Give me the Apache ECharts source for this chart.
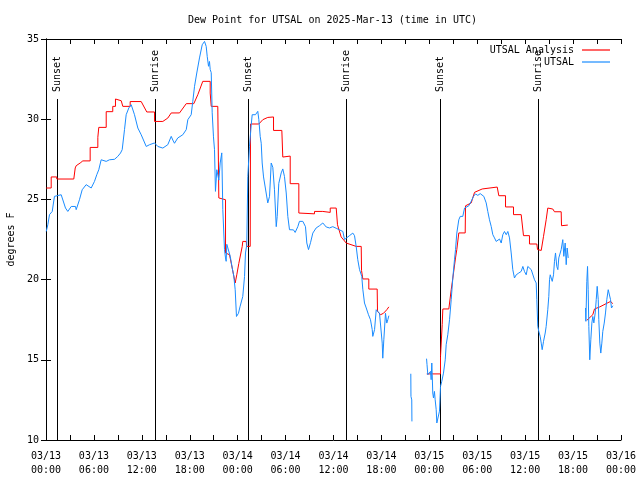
<!DOCTYPE html>
<html>
<head>
<meta charset="utf-8">
<script src="https://cdn.jsdelivr.net/npm/echarts@6/dist/echarts.min.js"></script>
<style>html,body{margin:0;padding:0;background:#fff}#c{width:640px;height:480px}</style>
</head>
<body>
<div id="c"></div>
<script>
// hours since 2025-03-13 00:00 UTC
const xTickLabels = ['03/13\n00:00','03/13\n06:00','03/13\n12:00','03/13\n18:00',
  '03/14\n00:00','03/14\n06:00','03/14\n12:00','03/14\n18:00',
  '03/15\n00:00','03/15\n06:00','03/15\n12:00','03/15\n18:00','03/16\n00:00'];
const sunHours = [1.35, 13.62, 25.27, 37.54, 49.31, 61.58];
const sunLabels = ['Sunset','Sunrise','Sunset','Sunrise','Sunset','Sunrise'];

const analysis = [
[0.03,25.71],[0.65,25.71],[0.65,26.4],[1.35,26.4],[1.35,26.27],[3.48,26.27],[3.66,26.96],[3.78,27.1],
[4.28,27.27],[4.61,27.4],[5.53,27.4],[5.53,28.24],[6.49,28.24],[6.49,28.87],[6.61,28.87],[6.61,29.49],
[7.54,29.49],[7.54,30.47],[8.36,30.47],[8.36,30.8],[8.70,30.8],[8.70,31.26],[9.42,31.15],[9.62,30.8],
[10.54,30.8],[10.54,31.1],[11.92,31.1],[12.62,30.45],[13.59,30.45],[13.59,29.86],[14.63,29.86],
[15.25,30.07],[15.68,30.39],[16.72,30.39],[17.56,30.97],[18.51,30.97],[19.01,31.53],[19.63,32.36],
[20.56,32.36],[20.56,31.63],[20.69,30.8],[21.51,30.8],[21.64,25.09],[21.81,24.98],[22.48,24.98],
[22.48,21.66],[22.98,21.55],[23.69,19.79],[23.89,20.3],[24.14,21.0],[24.57,22.07],[24.64,22.38],
[25.07,22.38],[25.14,22.07],[25.57,22.07],[25.61,29.7],[26.65,29.7],[27.15,29.97],[27.77,30.11],
[28.49,30.14],[28.49,29.3],[29.53,29.3],[29.65,27.64],[30.58,27.7],[30.58,25.98],[31.66,25.98],
[31.66,24.15],[33.62,24.1],[33.62,24.25],[34.66,24.25],[34.66,24.19],[35.59,24.19],[35.59,24.46],
[36.34,24.46],[36.50,23.42],[36.96,22.66],[37.59,22.28],[38.84,22.07],[39.47,22.07],[39.51,20.57],
[39.67,20.04],[40.42,20.04],[40.42,19.41],[41.47,19.41],[41.51,18.02],[41.89,17.81],[42.26,17.9],
[42.67,18.12],[42.93,18.3],
[43.5,null],
[45.78,12.78],[45.84,12.78],
[46.5,null],
[47.68,14.12],[49.40,14.12],[49.40,15.21],[49.61,17.19],[49.69,18.17],[50.44,18.17],[50.61,18.85],
[50.74,19.37],[50.86,19.79],[51.28,21.35],[51.44,21.87],[51.69,22.91],[52.49,22.91],[52.53,24.6],
[53.24,24.78],[53.37,24.98],[53.66,25.44],[54.62,25.65],[56.50,25.77],[56.70,25.23],[57.54,25.23],
[57.54,24.53],[58.54,24.53],[58.54,24.05],[59.50,24.05],[59.79,22.74],[60.54,22.74],[60.54,22.22],
[61.46,22.22],[61.55,21.87],[61.80,21.97],[62.01,21.82],[62.30,22.7],[62.63,23.73],[62.83,24.46],
[63.46,24.4],[63.67,24.23],[64.51,24.23],[64.55,23.36],[65.34,23.4],
[66.5,null],
[67.72,17.46],[68.47,17.81],[68.68,18.17],[69.31,18.29],[70.69,18.64],[70.98,18.5]
];

const observed = [
[0.03,23.0],[0.23,23.42],[0.44,24.05],[0.78,24.25],[1.06,25.19],[1.28,25.29],[1.90,25.29],[2.44,24.46],
[2.73,24.25],[3.16,24.56],[3.69,24.56],[3.78,24.36],[4.19,24.98],[4.53,25.6],[5.03,25.92],[5.20,26.02],
[5.66,25.71],[5.82,25.71],[6.07,26.12],[6.36,26.54],[6.61,26.85],[6.91,27.47],[7.07,27.58],[7.54,27.37],
[7.95,27.47],[8.20,27.37],[8.58,27.5],[8.99,27.68],[9.33,27.89],[9.54,28.1],[9.83,29.35],[10.04,30.28],
[10.37,30.7],[10.67,30.9],[11.08,30.28],[11.50,29.45],[11.92,29.03],[12.55,28.3],[12.96,28.41],
[13.59,28.52],[14.00,28.3],[14.63,28.2],[15.25,28.41],[15.68,28.93],[15.88,28.7],[16.09,28.5],
[16.50,28.83],[17.13,29.03],[17.56,29.35],[17.76,29.97],[18.18,30.28],[18.38,31.11],[18.60,32.05],
[18.88,32.88],[19.22,33.82],[19.56,34.64],[19.85,34.85],[20.06,34.54],[20.19,33.9],[20.35,33.3],
[20.47,33.6],[20.56,33.1],[20.69,32.9],[20.81,30.4],[20.97,28.9],[21.10,28.1],[21.22,25.5],[21.39,26.85],
[21.64,26.2],[21.81,27.27],[22.01,27.9],[22.14,24.36],[22.35,21.87],[22.48,21.35],[22.56,21.14],
[22.64,22.2],[22.89,22.17],[23.07,21.45],[23.32,20.72],[23.52,20.2],[23.69,19.37],[23.85,17.7],
[24.10,17.9],[24.29,18.3],[24.64,18.95],[24.86,20.2],[24.98,21.66],[25.14,22.17],[25.27,26.43],
[25.48,28.3],[25.70,29.66],[25.82,30.28],[26.02,30.17],[26.23,30.28],[26.52,30.49],[26.65,29.97],
[26.82,28.93],[26.95,28.5],[27.07,27.27],[27.24,26.4],[27.77,24.78],[27.99,25.19],[28.20,27.27],
[28.40,27.0],[28.61,25.6],[28.83,23.3],[28.95,23.94],[29.15,26.0],[29.45,26.65],[29.65,26.9],
[29.86,26.43],[30.08,25.4],[30.28,23.94],[30.49,23.11],[30.70,23.0],[30.99,23.1],[31.20,22.94],
[31.53,23.3],[31.74,23.63],[32.16,23.63],[32.49,23.3],[32.66,22.28],[32.87,21.87],[33.12,22.3],
[33.41,22.9],[33.83,23.22],[34.25,23.36],[34.66,23.53],[35.09,23.28],[35.50,23.22],[35.91,23.3],
[36.34,23.2],[36.75,23.1],[37.17,23.0],[37.38,22.5],[37.59,22.38],[38.00,22.74],[38.42,22.9],
[38.63,22.74],[38.84,22.07],[39.04,21.24],[39.26,20.62],[39.54,20.2],[39.67,19.4],[39.88,18.54],
[40.10,18.23],[40.38,17.81],[40.63,17.5],[40.85,16.88],[40.92,16.46],[41.14,16.88],[41.35,18.12],
[41.55,18.0],[41.76,17.9],[41.97,18.0],[42.10,16.04],[42.17,15.1],[42.30,16.25],[42.51,17.9],
[42.67,17.29],[42.80,17.5],[42.93,17.75],
[43.5,null],
[45.68,14.13],[45.70,12.72],[45.80,12.5],[45.82,11.16],
[46.5,null],
[47.65,15.07],[47.71,14.7],[47.81,14.07],[48.02,14.0],[48.15,14.28],[48.23,13.76],[48.31,14.8],
[48.36,14.07],[48.43,12.93],[48.52,12.62],[48.64,13.03],[48.73,12.51],[48.86,11.89],[48.94,11.06],
[49.06,11.16],[49.19,11.06],[49.27,11.8],[49.40,13.34],[49.56,13.66],[49.77,14.17],[49.99,15.0],
[50.11,15.94],[50.31,16.56],[50.53,17.5],[50.74,18.75],[50.94,20.1],[51.15,21.24],[51.28,21.87],
[51.44,22.9],[51.69,23.73],[51.87,23.94],[52.07,24.05],[52.19,23.94],[52.41,24.46],[52.62,24.56],
[52.94,24.6],[53.24,24.88],[53.53,25.19],[53.78,25.34],[54.07,25.25],[54.37,25.36],[54.62,25.4],
[54.82,25.19],[55.12,24.78],[55.32,24.25],[55.53,23.73],[55.75,23.31],[55.95,22.8],[56.16,22.6],
[56.37,22.38],[56.57,22.28],[56.79,22.53],[57.00,22.28],[57.20,22.8],[57.41,23.0],[57.63,22.8],
[57.83,23.0],[58.04,22.6],[58.25,21.66],[58.45,20.62],[58.66,20.1],[58.88,20.3],[59.20,20.41],
[59.50,20.51],[59.71,20.82],[59.92,20.5],[60.13,20.3],[60.33,20.82],[60.54,20.93],[60.76,20.62],
[60.96,20.5],[61.17,19.99],[61.38,19.79],[61.46,18.75],[61.58,17.08],[61.71,16.77],[61.88,16.46],
[62.01,16.04],[62.13,15.63],[62.30,16.15],[62.51,16.67],[62.63,17.08],[62.83,18.12],[62.96,18.95],
[63.05,19.99],[63.14,20.3],[63.26,20.1],[63.39,19.89],[63.55,20.3],[63.67,21.14],[63.80,21.66],
[63.96,20.82],[64.09,20.62],[64.21,21.35],[64.30,21.24],[64.51,21.87],[64.71,22.49],[64.84,21.45],
[65.01,22.28],[65.14,20.93],[65.26,21.97],[65.39,21.35],
[66.5,null],
[67.56,18.23],[67.60,17.4],[67.72,19.89],[67.81,20.82],[67.89,19.37],[67.97,17.08],[68.09,15.0],
[68.22,16.25],[68.35,17.29],[68.47,17.7],[68.60,17.3],[68.77,17.92],[68.90,18.75],[69.02,19.58],
[69.15,18.75],[69.22,17.5],[69.35,16.04],[69.47,15.42],[69.60,16.04],[69.72,16.77],[69.90,17.29],
[70.06,17.92],[70.22,18.75],[70.40,19.37],[70.56,19.48],[70.69,18.75],[70.81,18.23],[70.98,18.37]
];

const FONT = 'DejaVu Sans Mono';
const RED = '#ff0000';
const BLUE = '#1a8cff';

const chart = echarts.init(document.getElementById('c'), null, {renderer: 'canvas'});

const axisCommon = {
  axisLine: {show: true, lineStyle: {color: '#000', width: 1}},
  axisTick: {show: true, inside: true, length: 5, lineStyle: {color: '#000'}},
  splitLine: {show: false}
};

const legendCommon = {
  orient: 'vertical', right: 30, padding: 0, align: 'right', icon: 'rect',
  itemWidth: 28, itemHeight: 1.2,
  textStyle: {fontFamily: FONT, fontSize: 10, color: '#000', padding: [0, 3, 0, 0]}
};

chart.setOption({
  animation: false,
  backgroundColor: '#fff',
  textStyle: {fontFamily: FONT, color: '#000'},
  title: {
    text: 'Dew Point for UTSAL on 2025-Mar-13 (time in UTC)',
    left: 188, top: 15, padding: 0,
    textStyle: {fontFamily: FONT, fontSize: 10, fontWeight: 'normal', color: '#000'}
  },
  legend: [
    Object.assign({}, legendCommon, {data: ['UTSAL Analysis'], top: 45}),
    Object.assign({}, legendCommon, {data: ['UTSAL'], top: 57})
  ],
  grid: {left: 46, right: 19, top: 39, bottom: 40, outerBoundsMode: 'none', containLabel: false},
  xAxis: [
    Object.assign({}, axisCommon, {
      type: 'value', min: 0, max: 72, interval: 3, position: 'bottom',
      axisLabel: {
        fontFamily: FONT, fontSize: 10, color: '#000', margin: 9, lineHeight: 14,
        formatter: v => (v % 6 === 0 ? xTickLabels[v / 6] : '')
      }
    }),
    Object.assign({}, axisCommon, {
      type: 'value', min: 0, max: 72, interval: 3, position: 'top',
      axisLabel: {show: false}
    })
  ],
  yAxis: [
    Object.assign({}, axisCommon, {
      type: 'value', min: 10, max: 35, interval: 5, position: 'left',
      name: 'degrees F', nameLocation: 'middle', nameGap: 27,
      nameTextStyle: {fontFamily: FONT, fontSize: 10, color: '#000'},
      axisLabel: {fontFamily: FONT, fontSize: 10, color: '#000', margin: 7}
    }),
    Object.assign({}, axisCommon, {
      type: 'value', min: 10, max: 35, interval: 5, position: 'right',
      axisLabel: {show: false}
    })
  ],
  series: [
    {
      type: 'custom', name: 'sun', xAxisIndex: 0, yAxisIndex: 0, silent: true,
      data: sunHours.map(h => [h]),
      renderItem: function (params, api) {
        const h = api.value(0);
        const pTop = api.coord([h, 35]);
        const pBot = api.coord([h, 10]);
        const x = Math.round(pTop[0]) + 0.5;
        const lineTop = pTop[1] + 60;
        return {
          type: 'group',
          children: [
            {type: 'line', shape: {x1: x, y1: lineTop, x2: x, y2: pBot[1]},
             style: {stroke: '#000', lineWidth: 1}},
            {type: 'text', x: x, y: lineTop - 7, rotation: Math.PI / 2,
             style: {text: sunLabels[params.dataIndex], fontFamily: FONT, fontSize: 10,
                     fill: '#000', align: 'left', verticalAlign: 'middle'}}
          ]
        };
      }
    },
    {
      type: 'line', name: 'UTSAL Analysis', data: analysis, showSymbol: false, symbol: 'none',
      connectNulls: false, lineStyle: {color: RED, width: 1}, itemStyle: {color: RED}, z: 3
    },
    {
      type: 'line', name: 'UTSAL', data: observed, showSymbol: false, symbol: 'none',
      connectNulls: false, lineStyle: {color: BLUE, width: 1}, itemStyle: {color: BLUE}, z: 4
    }
  ]
});
</script>
</body>
</html>
